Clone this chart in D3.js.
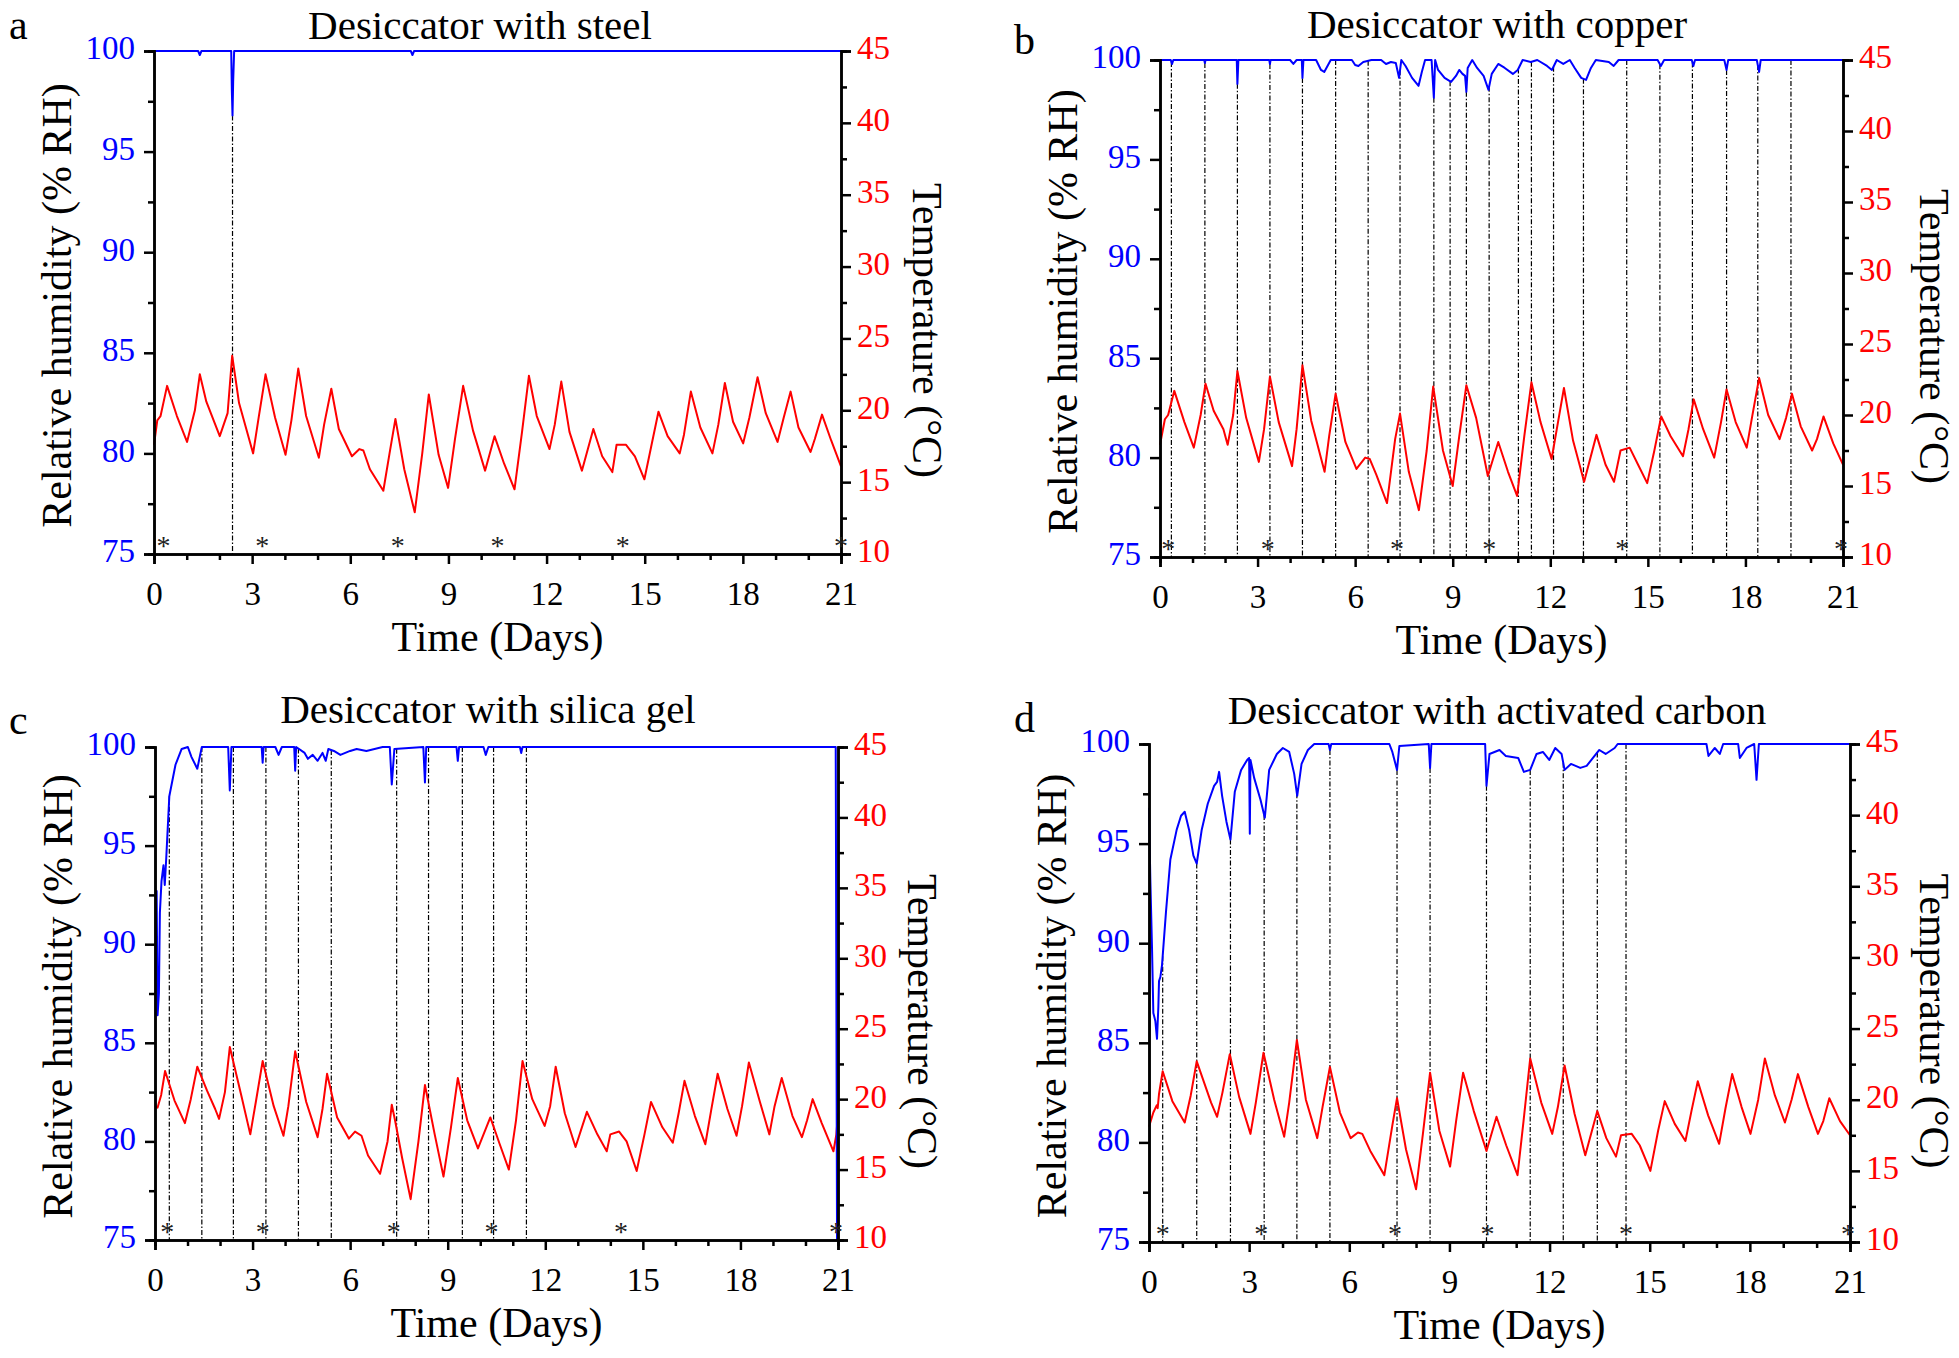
<!DOCTYPE html>
<html>
<head>
<meta charset="utf-8">
<script src="https://cdn.jsdelivr.net/npm/d3@7"></script>
<style>
body { margin: 0; background: #fff; }
svg { display: block; }
text { font-family: "Liberation Serif", "Times New Roman", serif; }
</style>
</head>
<body>
<script>
// tick labels
var dayTicks = [0, 3, 6, 9, 12, 15, 18, 21];
var rhTicks = [75, 80, 85, 90, 95, 100];
var tempTicks = [10, 15, 20, 25, 30, 35, 40, 45];

// panel a - steel : [day, value]
var rhA = [[0,100],[1.35,100],[1.4,99.8],[1.45,100],[2.36,100],[2.38,98],[2.4,96.8],[2.42,98.5],[2.45,100],
  [7.85,100],[7.9,99.8],[7.95,100],[21,100]];
var tempA = [[0,17.6],[0.1,19.3],[0.2,19.6],[0.4,21.7],[0.7,19.6],[1.01,17.8],[1.25,20.0],[1.4,22.5],[1.6,20.6],
  [2.01,18.2],[2.25,19.8],[2.39,23.8],[2.6,20.5],[3.03,17.0],[3.2,19.5],[3.41,22.5],[3.7,19.5],[4.02,16.9],
  [4.2,19.3],[4.41,22.9],[4.65,19.6],[5.04,16.7],[5.2,19.0],[5.42,21.5],[5.65,18.7],[6.05,16.8],[6.28,17.3],
  [6.4,17.2],[6.6,15.9],[7.01,14.4],[7.2,17.0],[7.38,19.4],[7.65,15.9],[7.97,12.9],[8.2,17.0],[8.4,21.1],
  [8.7,16.9],[8.99,14.6],[9.2,18.0],[9.45,21.7],[9.75,18.6],[10.12,15.8],[10.41,18.2],[10.7,16.3],[11.02,14.5],
  [11.25,18.5],[11.46,22.4],[11.7,19.6],[12.09,17.3],[12.25,19.0],[12.45,22.0],[12.7,18.5],[13.08,15.8],
  [13.43,18.7],[13.7,16.8],[14.01,15.7],[14.14,17.6],[14.43,17.6],[14.7,16.8],[14.99,15.2],[15.2,17.5],
  [15.42,19.9],[15.7,18.2],[16.07,17.0],[16.2,18.3],[16.41,21.3],[16.7,18.8],[17.07,17.0],[17.25,19.0],
  [17.45,21.9],[17.7,19.2],[18.01,17.7],[18.2,19.5],[18.45,22.3],[18.7,19.8],[19.06,17.8],[19.25,19.5],
  [19.46,21.3],[19.7,18.8],[20.07,17.1],[20.2,18.0],[20.42,19.7],[20.7,17.9],[21,16.1]];
var marksA = [2.4];
var starsA = [0.29, 3.31, 7.45, 10.5, 14.33, 21.0];

// panel b - copper
var rhB = [[0,100],[0.33,100],[0.37,99.8],[0.41,100],[1.36,100],[1.38,99.85],[1.4,100],[2.36,100],[2.38,98.8],
  [2.41,100],[3.36,100],[3.38,99.8],[3.4,100],[4.0,100],[4.1,99.8],[4.2,100],[4.36,100],[4.38,99.1],[4.41,100],
  [4.8,100],[4.95,99.5],[5.05,99.4],[5.15,99.7],[5.25,100],[5.9,100],[6.0,99.75],[6.1,99.7],[6.25,99.9],[6.5,100],
  [6.8,100],[6.95,99.8],[7.1,99.9],[7.25,99.85],[7.35,99.1],[7.42,100],[7.55,99.7],[7.75,99.1],[7.95,98.7],
  [8.05,99.4],[8.15,100],[8.35,100],[8.42,98.1],[8.46,100],[8.55,99.5],[8.75,99.1],[8.95,98.9],[9.1,99.2],
  [9.2,99.5],[9.3,99.3],[9.38,99.2],[9.42,98.4],[9.46,99.6],[9.6,100],[9.75,99.6],[9.95,99.2],[10.1,98.5],
  [10.2,99.3],[10.4,99.8],[10.6,99.6],[10.85,99.3],[11.0,99.5],[11.15,100],[11.4,99.9],[11.6,100],[11.9,99.7],
  [12.05,99.5],[12.2,100],[12.4,99.8],[12.6,100],[12.75,99.6],[12.95,99.1],[13.1,99.0],[13.25,99.6],[13.4,100],
  [13.8,99.9],[13.95,99.7],[14.1,100],[15.3,100],[15.4,99.7],[15.5,100],[16.35,100],[16.4,99.7],[16.45,100],
  [17.35,100],[17.42,99.5],[17.47,100],[18.35,100],[18.42,99.4],[18.47,100],[21,100]];
var tempB = [[0,17.9],[0.15,19.7],[0.25,20.0],[0.44,21.7],[0.75,19.5],[1.04,17.7],[1.25,20.0],[1.40,22.2],
  [1.65,20.3],[1.95,19.0],[2.08,17.9],[2.25,20.0],[2.38,23.1],[2.65,19.8],[3.04,16.7],[3.2,19.0],[3.38,22.7],
  [3.65,19.5],[4.06,16.4],[4.2,19.0],[4.38,23.5],[4.65,19.6],[5.06,16.0],[5.2,18.5],[5.40,21.5],[5.7,18.1],
  [6.04,16.2],[6.31,17.0],[6.45,16.9],[6.65,15.8],[6.98,13.8],[7.23,18.3],[7.38,20.1],[7.65,16.0],[7.96,13.3],
  [8.2,17.5],[8.40,22.0],[8.7,17.5],[9.0,15.0],[9.2,18.5],[9.42,22.1],[9.72,19.8],[10.08,15.7],[10.40,18.1],
  [10.7,16.0],[10.98,14.3],[11.2,18.5],[11.42,22.3],[11.7,19.5],[12.04,16.9],[12.2,19.0],[12.42,21.9],
  [12.7,18.2],[13.04,15.3],[13.42,18.6],[13.7,16.5],[13.96,15.3],[14.16,17.5],[14.44,17.7],[14.7,16.5],
  [14.98,15.2],[15.2,17.5],[15.41,19.9],[15.7,18.5],[16.08,17.1],[16.25,19.0],[16.41,21.1],[16.7,19.0],
  [17.04,17.0],[17.25,19.5],[17.42,21.8],[17.7,19.5],[18.04,17.7],[18.2,19.8],[18.42,22.6],[18.7,20.0],
  [19.05,18.3],[19.25,19.8],[19.43,21.5],[19.7,19.2],[20.05,17.5],[20.2,18.3],[20.40,19.9],[20.7,18.0],[21,16.5]];
var marksB = [0.35,1.38,2.38,3.38,4.38,5.40,6.40,7.38,8.42,8.92,9.42,10.12,11.02,11.42,12.1,13.02,14.35,15.37,
  16.37,17.42,18.38,19.40];
var starsB = [0.25, 3.31, 7.29, 10.12, 14.21, 20.94];

// panel c - silica gel
var rhC = [[0.02,92.7],[0.05,92.7],[0.08,86.4],[0.12,87.5],[0.15,91.6],[0.2,93.2],[0.26,94.0],[0.3,93.0],
  [0.35,94.5],[0.44,97.5],[0.63,99.1],[0.82,99.9],[1.01,100],[1.12,99.5],[1.3,98.9],[1.44,100],[2.25,100],
  [2.3,97.8],[2.35,100],[3.28,100],[3.31,99.2],[3.34,100],[3.7,100],[3.8,99.6],[3.9,100],[4.28,100],[4.31,98.8],
  [4.34,100],[4.6,99.7],[4.7,99.4],[4.85,99.6],[5.0,99.3],[5.15,99.7],[5.25,99.3],[5.33,99.9],[5.5,99.8],
  [5.7,99.6],[6.0,99.8],[6.2,99.9],[6.5,99.8],[6.75,99.9],[7.0,100],[7.22,100],[7.28,98.1],[7.36,99.9],
  [8.25,100],[8.3,98.2],[8.34,100],[9.27,100],[9.31,99.3],[9.35,100],[10.1,100],[10.17,99.6],[10.25,100],
  [11.22,100],[11.26,99.7],[11.3,100],[20.93,100],[20.97,75]];
var tempC = [[0,19.5],[0.08,19.4],[0.19,20.3],[0.31,22.0],[0.6,19.9],[0.92,18.3],[1.1,20.0],[1.30,22.3],
  [1.6,20.6],[1.85,19.3],[1.97,18.6],[2.15,20.5],[2.30,23.7],[2.65,20.3],[2.93,17.5],[3.1,19.8],[3.31,22.7],
  [3.65,19.5],[3.95,17.4],[4.1,19.5],[4.31,23.4],[4.65,19.8],[5.0,17.3],[5.15,19.3],[5.29,21.8],[5.6,18.7],
  [5.96,17.2],[6.15,17.7],[6.35,17.4],[6.55,16.0],[6.92,14.7],[7.15,17.0],[7.28,19.6],[7.38,18.5],[7.6,15.8],
  [7.86,12.9],[8.1,17.0],[8.30,21.0],[8.6,17.5],[8.87,14.5],[9.1,18.0],[9.31,21.5],[9.6,18.5],[9.93,16.5],
  [10.31,18.7],[10.6,16.8],[10.88,15.0],[11.1,18.5],[11.30,22.7],[11.6,20.0],[11.98,18.1],[12.15,19.5],
  [12.32,22.3],[12.6,19.0],[12.93,16.6],[13.28,19.1],[13.6,17.5],[13.89,16.3],[14.0,17.5],[14.27,17.7],
  [14.5,17.0],[14.81,14.9],[15.05,17.5],[15.25,19.8],[15.6,18.0],[15.92,16.9],[16.1,19.0],[16.28,21.3],
  [16.6,18.8],[16.92,16.8],[17.1,19.2],[17.30,21.8],[17.6,19.3],[17.88,17.4],[18.05,19.5],[18.26,22.6],
  [18.6,19.8],[18.89,17.5],[19.05,19.5],[19.27,21.5],[19.6,18.8],[19.89,17.3],[20.05,18.5],[20.22,20.0],
  [20.5,18.3],[20.86,16.3],[20.95,17.5],[21,19.0]];
var marksC = [0.44,1.44,2.41,3.41,4.41,5.42,7.43,8.41,9.45,10.41,11.42];
var starsC = [0.38, 3.31, 7.34, 10.35, 14.33, 20.94];

// panel d - activated carbon
var rhD = [[0,96.8],[0.04,93.2],[0.09,89.8],[0.13,86.5],[0.19,86.1],[0.24,85.2],[0.28,86.8],[0.30,88.1],
  [0.34,88.3],[0.39,88.9],[0.51,91.6],[0.64,94.2],[0.83,95.7],[0.96,96.4],[1.07,96.6],[1.2,95.7],[1.33,94.4],
  [1.43,94.0],[1.58,95.7],[1.76,97.0],[1.95,97.9],[2.04,98.1],[2.1,98.6],[2.19,97.4],[2.32,96.1],[2.44,95.2],
  [2.57,97.6],[2.76,98.7],[2.94,99.2],[3.0,99.3],[3.02,95.5],[3.04,99.2],[3.15,98.3],[3.34,97.2],[3.47,96.3],
  [3.6,98.7],[3.83,99.5],[4.01,99.8],[4.2,99.6],[4.35,98.5],[4.44,97.4],[4.57,99.0],[4.76,99.7],[4.95,100],
  [5.38,100],[5.42,99.7],[5.46,100],[7.2,100],[7.29,99.6],[7.43,98.7],[7.5,99.9],[8.38,100],[8.42,98.8],
  [8.46,100],[10.07,100],[10.11,97.9],[10.2,99.5],[10.5,99.7],[10.69,99.4],[11.06,99.3],[11.23,98.6],
  [11.42,98.7],[11.61,99.5],[11.8,99.6],[11.99,99.2],[12.17,99.8],[12.36,99.5],[12.45,98.7],[12.64,99.0],
  [12.92,98.8],[13.11,98.9],[13.3,99.3],[13.49,99.7],[13.68,99.5],[13.95,99.8],[14.04,100],[16.7,100],
  [16.76,99.4],[16.95,99.8],[17.1,99.5],[17.2,100],[17.65,100],[17.7,99.3],[17.9,99.8],[18.13,100],[18.2,98.2],
  [18.27,100],[21,100]];
var tempD = [[0,18.1],[0.13,19.1],[0.23,19.6],[0.26,19.4],[0.3,20.4],[0.41,22.0],[0.7,19.9],[1.07,18.4],
  [1.25,20.3],[1.43,22.7],[1.86,19.8],[2.04,18.8],[2.2,20.5],[2.42,23.2],[2.7,20.2],[3.04,17.6],[3.2,19.8],
  [3.43,23.3],[3.75,20.0],[4.05,17.4],[4.2,19.8],[4.43,24.2],[4.7,20.0],[5.04,17.3],[5.2,19.5],[5.42,22.3],
  [5.72,19.1],[6.04,17.3],[6.26,17.7],[6.39,17.6],[6.63,16.4],[7.05,14.7],[7.29,18.2],[7.43,20.1],[7.7,16.5],
  [8.0,13.7],[8.2,17.5],[8.42,21.9],[8.7,17.8],[9.02,15.3],[9.2,18.5],[9.41,21.9],[9.73,19.2],[10.11,16.4],
  [10.41,18.8],[10.7,16.8],[11.04,14.7],[11.22,18.5],[11.42,22.9],[11.75,19.8],[12.08,17.6],[12.25,19.5],
  [12.45,22.4],[12.75,19.0],[13.07,16.1],[13.43,19.2],[13.7,17.3],[13.99,16.0],[14.14,17.5],[14.46,17.6],
  [14.7,16.8],[15.02,15.0],[15.25,17.8],[15.45,19.9],[15.75,18.3],[16.07,17.1],[16.25,19.2],[16.44,21.3],
  [16.75,18.9],[17.08,16.9],[17.27,19.4],[17.47,21.8],[17.75,19.5],[18.02,17.6],[18.25,20.0],[18.45,22.9],
  [18.75,20.3],[19.05,18.4],[19.25,20.0],[19.44,21.8],[19.75,19.5],[20.04,17.6],[20.2,18.5],[20.38,20.1],
  [20.7,18.5],[21,17.5]];
var marksD = [0.41,1.43,2.44,3.45,4.43,5.42,7.43,8.42,10.11,11.42,12.41,13.43,14.29];
var starsD = [0.41, 3.36, 7.37, 10.14, 14.29, 20.94];

var titles = ['Desiccator with steel', 'Desiccator with copper', 'Desiccator with silica gel',
  'Desiccator with activated carbon'];
var letters = ['a', 'b', 'c', 'd'];

// layout of the four plot boxes
var boxes = [
  {x0: 154, x1: 841, y0: 51, y1: 554, tx: 480, ty: 39, lx: 9, ly: 39, rt: 86},
  {x0: 1160, x1: 1843, y0: 60, y1: 557, tx: 1497, ty: 38, lx: 1014, ly: 54, rt: 91},
  {x0: 155, x1: 838, y0: 747, y1: 1240, tx: 488, ty: 723, lx: 9, ly: 734, rt: 84},
  {x0: 1149, x1: 1850, y0: 744, y1: 1242, tx: 1497, ty: 724, lx: 1014, ly: 732, rt: 84}
];
var series = [
  {rh: rhA, temp: tempA, marks: marksA, stars: starsA},
  {rh: rhB, temp: tempB, marks: marksB, stars: starsB},
  {rh: rhC, temp: tempC, marks: marksC, stars: starsC},
  {rh: rhD, temp: tempD, marks: marksD, stars: starsD}
];

var svg = d3.select('body').append('svg').attr('width', 1959).attr('height', 1358);

function styleAxis(sel, color, withText) {
  sel.select('.domain').attr('stroke', '#000').attr('stroke-width', 2.5);
  sel.selectAll('.tick line').attr('stroke', '#000').attr('stroke-width', 2.5);
  if (withText) sel.selectAll('.tick text').attr('fill', color).style('font-size', '33px');
  else sel.selectAll('.tick text').remove();
}

function drawPanel(b, i) {
  var s = series[i];
  var x = d3.scaleLinear().domain([0, 21]).range([b.x0, b.x1]);
  var yRH = d3.scaleLinear().domain([75, 100]).range([b.y1, b.y0]);
  var yT = d3.scaleLinear().domain([10, 45]).range([b.y1, b.y0]);
  var g = svg.append('g');

  // rh value under each marker line
  var bis = d3.bisector(function(d) { return d[0]; }).left;
  function rhAt(t) {
    var k = bis(s.rh, t);
    if (k <= 0) return s.rh[0][1];
    if (k >= s.rh.length) return s.rh[s.rh.length - 1][1];
    var a = s.rh[k - 1], c = s.rh[k];
    return a[1] + (c[1] - a[1]) * (t - a[0]) / (c[0] - a[0]);
  }

  g.selectAll('line.mark').data(s.marks).enter().append('line')
    .attr('x1', function(d) { return x(d); }).attr('x2', function(d) { return x(d); })
    .attr('y1', function(d) { return yRH(rhAt(d)); }).attr('y2', yRH(75))
    .attr('stroke', '#000').attr('stroke-width', 1.2).attr('stroke-dasharray', '5,2,1.5,2');

  var lineT = d3.line().x(function(d) { return x(d[0]); }).y(function(d) { return yT(d[1]); });
  var lineRH = d3.line().x(function(d) { return x(d[0]); }).y(function(d) { return yRH(d[1]); });

  g.append('path').datum(s.temp).attr('d', lineT).attr('fill', 'none')
    .attr('stroke', '#ff0000').attr('stroke-width', 2).attr('stroke-linejoin', 'round');
  g.append('path').datum(s.rh).attr('d', lineRH).attr('fill', 'none')
    .attr('stroke', '#0000ff').attr('stroke-width', 2).attr('stroke-linejoin', 'round');

  // axes
  var bottom = g.append('g').attr('transform', 'translate(0,' + b.y1 + ')')
    .call(d3.axisBottom(x).tickValues(dayTicks).tickSize(10).tickPadding(18).tickFormat(d3.format('d')));
  styleAxis(bottom, '#000', true);
  var bottomMinor = g.append('g').attr('transform', 'translate(0,' + b.y1 + ')')
    .call(d3.axisBottom(x).tickValues(d3.range(0, 22).filter(function(d) { return d % 3; })).tickSize(6));
  styleAxis(bottomMinor, '#000', false);

  var left = g.append('g').attr('transform', 'translate(' + b.x0 + ',0)')
    .call(d3.axisLeft(yRH).tickValues(rhTicks).tickSize(10).tickPadding(9));
  styleAxis(left, '#0000ff', true);
  left.selectAll('.tick text').attr('dy', '0.24em');
  var leftMinor = g.append('g').attr('transform', 'translate(' + b.x0 + ',0)')
    .call(d3.axisLeft(yRH).tickValues([77.5, 82.5, 87.5, 92.5, 97.5]).tickSize(6));
  styleAxis(leftMinor, '#000', false);

  var right = g.append('g').attr('transform', 'translate(' + b.x1 + ',0)')
    .call(d3.axisRight(yT).tickValues(tempTicks).tickSize(10).tickPadding(6));
  styleAxis(right, '#ff0000', true);
  right.selectAll('.tick text').attr('dy', '0.24em');
  var rightMinor = g.append('g').attr('transform', 'translate(' + b.x1 + ',0)')
    .call(d3.axisRight(yT).tickValues([12.5, 17.5, 22.5, 27.5, 32.5, 37.5, 42.5]).tickSize(6));
  styleAxis(rightMinor, '#000', false);

  // stars near the bottom
  g.selectAll('text.star').data(s.stars).enter().append('text')
    .attr('x', function(d) { return x(d); }).attr('y', yRH(75) + 1)
    .attr('text-anchor', 'middle').style('font-size', '28px').attr('fill', '#222').text('*');

  // titles
  g.append('text').attr('x', b.tx).attr('y', b.ty).attr('text-anchor', 'middle')
    .style('font-size', '41px').text(titles[i]);
  g.append('text').attr('x', b.lx).attr('y', b.ly).style('font-size', '42px').text(letters[i]);
  g.append('text').attr('x', (b.x0 + b.x1) / 2).attr('y', b.y1 + 97).attr('text-anchor', 'middle')
    .style('font-size', '42px').text('Time (Days)');
  var cy = (b.y0 + b.y1) / 2;
  g.append('text').attr('transform', 'translate(' + (b.x0 - 97) + ',' + (cy + 3) + ') rotate(-90)')
    .attr('text-anchor', 'middle').attr('dominant-baseline', 'central')
    .style('font-size', '42px').text('Relative humidity (% RH)');
  g.append('text').attr('transform', 'translate(' + (b.x1 + b.rt) + ',' + (cy + 28) + ') rotate(90)')
    .attr('text-anchor', 'middle').attr('dominant-baseline', 'central')
    .style('font-size', '42px').text('Temperature (°C)');
}

boxes.forEach(drawPanel);
</script>
</body>
</html>
